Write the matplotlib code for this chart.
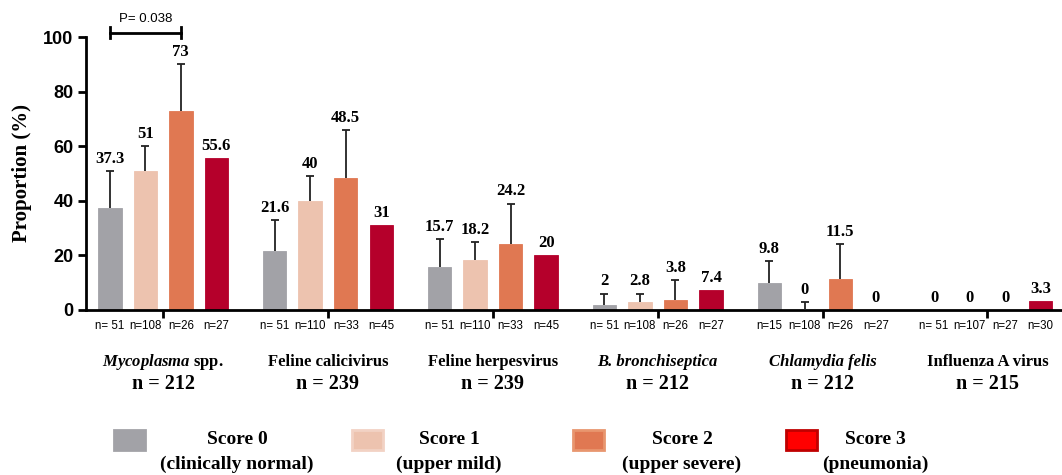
import numpy as np
import matplotlib
matplotlib.use("Agg")
import matplotlib.pyplot as plt
from matplotlib.patches import Rectangle
from matplotlib.transforms import blended_transform_factory

plt.rcParams['mathtext.fontset'] = 'custom'
plt.rcParams['mathtext.it'] = 'Liberation Serif:italic:bold'
plt.rcParams['mathtext.rm'] = 'Liberation Serif:bold'

# ---------------- data ----------------
pathogens = [r"$\mathit{Mycoplasma}$ spp.", "Feline calicivirus", "Feline herpesvirus",
             "B. bronchiseptica", "Chlamydia felis", "Influenza A virus"]
pathogen_style = ["normal", "normal", "normal", "italic", "italic", "normal"]
totals = ["n = 212", "n = 239", "n = 239", "n = 212", "n = 212", "n = 215"]
series_names = ["Score 0", "Score 1", "Score 2", "Score 3"]
series_sub = ["(clinically normal)", "(upper mild)", "(upper severe)", "(pneumonia)"]

score0 = [37.3, 21.6, 15.7, 2, 9.8, 0]
score1 = [51, 40, 18.2, 2.8, 0, 0]
score2 = [73, 48.5, 24.2, 3.8, 11.5, 0]
score3 = [55.6, 31, 20, 7.4, 0, 3.3]

# upper end of the error bars (None = no bar drawn)
err_top0 = [51, 33, 26, 6, 18, None]
err_top1 = [60, 49, 25, 6, 3, None]
err_top2 = [90, 66, 39, 11, 24, None]
err_top3 = [None, None, None, None, None, None]

n0 = ["n= 51", "n= 51", "n= 51", "n= 51", "n=15", "n= 51"]
n1 = ["n=108", "n=110", "n=110", "n=108", "n=108", "n=107"]
n2 = ["n=26", "n=33", "n=33", "n=26", "n=26", "n=27"]
n3 = ["n=27", "n=45", "n=45", "n=27", "n=27", "n=30"]

p_text = "P= 0.038"
p_y = 101.5

colors = ["#A2A2A7", "#EDC3AF", "#E07852", "#B5002B"]
legend_face = ["#A2A2A7", "#EDC3AF", "#E07852", "#FF0000"]
legend_edge = ["#A2A2A7", "#F2D2C4", "#E8966F", "#C00000"]

values = [score0, score1, score2, score3]
tops = [err_top0, err_top1, err_top2, err_top3]
ns = [n0, n1, n2, n3]

# ---------------- figure ----------------
W, H = 1062, 475
fig = plt.figure(figsize=(W / 100, H / 100), dpi=100)
ax = fig.add_axes([86 / W, 1 - 310 / H, (W - 86) / W, 273 / H])

gap = 4.64
centers = np.arange(len(pathogens)) * gap
offsets = [-1.5, -0.5, 0.5, 1.5]
bw = 0.66

serif = "Liberation Serif"
sans = "Liberation Sans"

trans_lab = blended_transform_factory(ax.transData, fig.transFigure)

for s in range(4):
    xs = centers + offsets[s]
    ax.bar(xs, values[s], width=bw, color=colors[s], edgecolor=colors[s], linewidth=0.6, zorder=2)
    ex, ey, eu = [], [], []
    for i in range(len(xs)):
        t = tops[s][i]
        if t is not None:
            ex.append(xs[i]); ey.append(values[s][i]); eu.append(t - values[s][i])
    if ex:
        _, caps, _ = ax.errorbar(ex, ey, yerr=[np.zeros(len(eu)), eu], fmt="none",
                                 ecolor="#222222", elinewidth=1.3, capsize=3.2,
                                 capthick=1.3, zorder=3)
        # hide the cap at the bar top (lower end), keep only the upper cap
        if len(caps) == 2:
            caps[0].set_visible(False)
    for i in range(len(xs)):
        t = tops[s][i]
        base = t if t is not None else values[s][i]
        lbl = f"{values[s][i]:g}"
        ax.annotate(lbl, (xs[i], base), xytext=(0, 3), textcoords="offset points",
                    ha="center", va="bottom", fontsize=12, fontweight="bold",
                    family=serif, clip_on=False)
        ax.text(xs[i], 1 - 326 / H, ns[s][i], transform=trans_lab, ha="center", va="center",
                fontsize=8.3, family=sans)

for i in range(len(pathogens)):
    ax.text(centers[i], 1 - 362 / H, pathogens[i], transform=trans_lab, ha="center",
            va="center", fontsize=12, fontweight="bold", fontstyle=pathogen_style[i],
            family=serif)
    ax.text(centers[i], 1 - 384 / H, totals[i], transform=trans_lab, ha="center",
            va="center", fontsize=14.5, fontweight="bold", family=serif)

# p-value bracket
x1, x2 = centers[0] + offsets[0], centers[0] + offsets[2]
ax.plot([x1, x2], [p_y, p_y], color="black", lw=2, clip_on=False)
ax.plot([x1, x1], [p_y - 2, p_y + 2], color="black", lw=2, clip_on=False)
ax.plot([x2, x2], [p_y - 2, p_y + 2], color="black", lw=2, clip_on=False)
ax.text((x1 + x2) / 2, p_y + 2.8, p_text, ha="center", va="bottom", fontsize=9.5, family=sans)

ax.set_ylim(0, 100)
ax.set_xlim(-2.17, 25.3)
ax.set_yticks([0, 20, 40, 60, 80, 100])
ax.set_xticks(centers)
ax.set_xticklabels([])
for side in ["top", "right"]:
    ax.spines[side].set_visible(False)
for side in ["left", "bottom"]:
    ax.spines[side].set_linewidth(2)
ax.tick_params(axis="both", width=2, length=6, direction="out")
ax.tick_params(axis="y", pad=3)
for t in ax.get_yticklabels():
    t.set_fontfamily(sans)
    t.set_fontweight("bold")
    t.set_fontsize(13)
ax.set_ylabel("Proportion (%)", fontsize=15, fontweight="bold", family=serif, labelpad=8)

# legend, drawn manually
patch_x = [114, 352, 573, 786]
text_x = [237, 449, 682, 875]
for k in range(4):
    fig.patches.append(Rectangle((patch_x[k] / W, 1 - 450 / H), 31 / W, 20 / H,
                                 transform=fig.transFigure, facecolor=legend_face[k],
                                 edgecolor=legend_edge[k], linewidth=2.0))
    fig.text(text_x[k] / W, 1 - 439 / H, series_names[k], ha="center", va="center",
             fontsize=14, fontweight="bold", family=serif)
    fig.text(text_x[k] / W, 1 - 464 / H, series_sub[k], ha="center", va="center",
             fontsize=14, fontweight="bold", family=serif)

fig.savefig("out.png", dpi=100)
